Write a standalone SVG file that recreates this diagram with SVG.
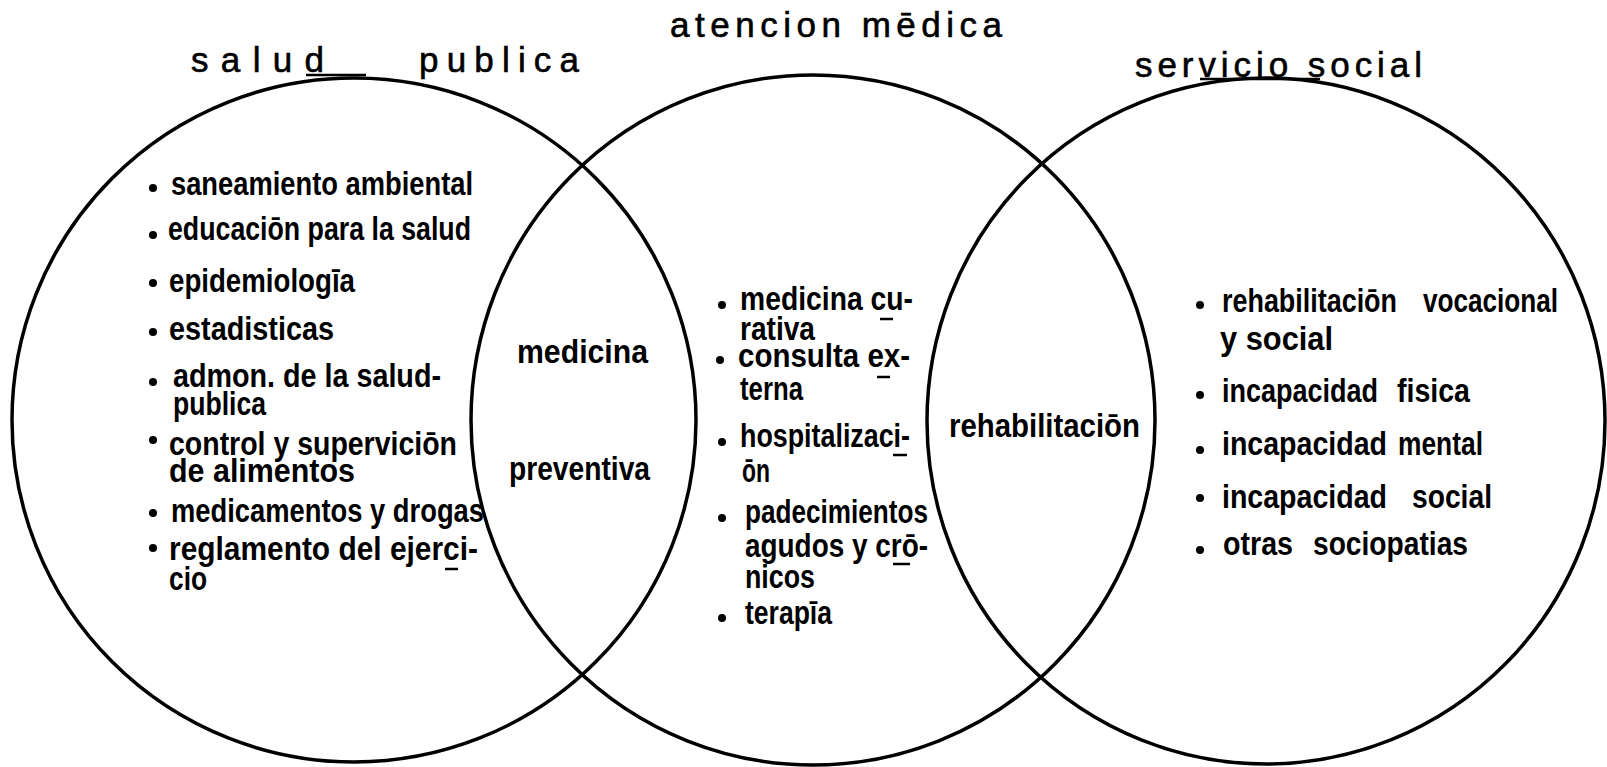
<svg xmlns="http://www.w3.org/2000/svg" width="1607" height="767" viewBox="0 0 1607 767">
<style>
.ring{fill:none;stroke:#000;stroke-width:3.5}
.ul{stroke:#000;stroke-width:2.5}
.title{font-family:"Liberation Sans","DejaVu Sans",sans-serif;font-size:35px;fill:#000;stroke:#000;stroke-width:0.6}
.t{font-family:"Liberation Sans","DejaVu Sans",sans-serif;font-size:34px;font-weight:bold;fill:#000}
.dot{fill:#000}
</style>
<rect width="1607" height="767" fill="#fff"/>
<g id="connectors"></g>

<g id="salud-publica">
<ellipse class="ring" cx="354" cy="420" rx="342" ry="342"/>
<text class="title" x="191" y="72" textLength="133" lengthAdjust="spacing">salud</text>
<text class="title" x="419" y="72" textLength="160" lengthAdjust="spacing">publica</text>
<line class="ul" x1="306" y1="75" x2="366" y2="75"/>
<circle class="dot" cx="153" cy="188" r="4"/>
<text class="t" x="171" y="195" textLength="302" lengthAdjust="spacingAndGlyphs">saneamiento ambiental</text>
<circle class="dot" cx="153" cy="235" r="4"/>
<text class="t" x="168" y="240" textLength="303" lengthAdjust="spacingAndGlyphs">educaciōn para la salud</text>
<circle class="dot" cx="153" cy="283" r="4"/>
<text class="t" x="169" y="292" textLength="186" lengthAdjust="spacingAndGlyphs">epidemiologīa</text>
<circle class="dot" cx="153" cy="332" r="4"/>
<text class="t" x="169" y="340" textLength="165" lengthAdjust="spacingAndGlyphs">estadisticas</text>
<circle class="dot" cx="153" cy="382" r="4"/>
<text class="t" x="173" y="387" textLength="268" lengthAdjust="spacingAndGlyphs">admon. de la salud-</text>
<text class="t" x="173" y="415" textLength="93" lengthAdjust="spacingAndGlyphs">publica</text>
<circle class="dot" cx="153" cy="440" r="4"/>
<text class="t" x="169" y="455" textLength="288" lengthAdjust="spacingAndGlyphs">control y superviciōn</text>
<text class="t" x="169" y="482" textLength="186" lengthAdjust="spacingAndGlyphs">de alimentos</text>
<circle class="dot" cx="153" cy="513" r="4"/>
<text class="t" x="171" y="522" textLength="313" lengthAdjust="spacingAndGlyphs">medicamentos y drogas</text>
<circle class="dot" cx="153" cy="548" r="4"/>
<text class="t" x="169" y="560" textLength="309" lengthAdjust="spacingAndGlyphs">reglamento del ejerci-</text>
<line class="ul" x1="445" y1="569" x2="458" y2="569"/>
<text class="t" x="169" y="590" textLength="38" lengthAdjust="spacingAndGlyphs">cio</text>
</g>

<g id="atencion-medica">
<ellipse class="ring" cx="813" cy="420" rx="342" ry="345"/>
<text class="title" x="670" y="37" textLength="332" lengthAdjust="spacing">atencion mēdica</text>
<circle class="dot" cx="722" cy="305" r="4"/>
<text class="t" x="740" y="310" textLength="173" lengthAdjust="spacingAndGlyphs">medicina cu-</text>
<line class="ul" x1="880" y1="319" x2="893" y2="319"/>
<text class="t" x="740" y="340" textLength="75" lengthAdjust="spacingAndGlyphs">rativa</text>
<circle class="dot" cx="720" cy="360" r="4"/>
<text class="t" x="738" y="367" textLength="172" lengthAdjust="spacingAndGlyphs">consulta ex-</text>
<line class="ul" x1="877" y1="377" x2="890" y2="377"/>
<text class="t" x="740" y="400" textLength="63" lengthAdjust="spacingAndGlyphs">terna</text>
<circle class="dot" cx="722" cy="442" r="4"/>
<text class="t" x="740" y="447" textLength="170" lengthAdjust="spacingAndGlyphs">hospitalizaci-</text>
<line class="ul" x1="893" y1="455" x2="907" y2="455"/>
<text class="t" x="742" y="482" textLength="28" lengthAdjust="spacingAndGlyphs">ōn</text>
<circle class="dot" cx="722" cy="518" r="4"/>
<text class="t" x="745" y="523" textLength="183" lengthAdjust="spacingAndGlyphs">padecimientos</text>
<text class="t" x="745" y="557" textLength="183" lengthAdjust="spacingAndGlyphs">agudos y crō-</text>
<line class="ul" x1="893" y1="564" x2="910" y2="564"/>
<text class="t" x="745" y="588" textLength="70" lengthAdjust="spacingAndGlyphs">nicos</text>
<circle class="dot" cx="722" cy="618" r="4"/>
<text class="t" x="745" y="624" textLength="87" lengthAdjust="spacingAndGlyphs">terapīa</text>
</g>

<g id="servicio-social">
<ellipse class="ring" cx="1266" cy="421" rx="339" ry="343"/>
<text class="title" x="1135" y="77" textLength="287" lengthAdjust="spacing">servicio social</text>
<line class="ul" x1="1200" y1="79" x2="1320" y2="79"/>
<circle class="dot" cx="1200" cy="305" r="4"/>
<text class="t" x="1222" y="312" textLength="175" lengthAdjust="spacingAndGlyphs">rehabilitaciōn</text>
<text class="t" x="1423" y="312" textLength="135" lengthAdjust="spacingAndGlyphs">vocacional</text>
<text class="t" x="1220" y="350" textLength="113" lengthAdjust="spacingAndGlyphs">y social</text>
<circle class="dot" cx="1200" cy="395" r="4"/>
<text class="t" x="1222" y="402" textLength="156" lengthAdjust="spacingAndGlyphs">incapacidad</text>
<text class="t" x="1397" y="402" textLength="73" lengthAdjust="spacingAndGlyphs">fisica</text>
<circle class="dot" cx="1200" cy="450" r="4"/>
<text class="t" x="1222" y="455" textLength="165" lengthAdjust="spacingAndGlyphs">incapacidad</text>
<text class="t" x="1398" y="455" textLength="85" lengthAdjust="spacingAndGlyphs">mental</text>
<circle class="dot" cx="1200" cy="498" r="4"/>
<text class="t" x="1222" y="508" textLength="165" lengthAdjust="spacingAndGlyphs">incapacidad</text>
<text class="t" x="1412" y="508" textLength="80" lengthAdjust="spacingAndGlyphs">social</text>
<circle class="dot" cx="1200" cy="550" r="4"/>
<text class="t" x="1223" y="555" textLength="70" lengthAdjust="spacingAndGlyphs">otras</text>
<text class="t" x="1313" y="555" textLength="155" lengthAdjust="spacingAndGlyphs">sociopatias</text>
</g>

<g id="medicina-preventiva">
<text class="t" x="517" y="363" textLength="131" lengthAdjust="spacingAndGlyphs">medicina</text>
<text class="t" x="509" y="480" textLength="141" lengthAdjust="spacingAndGlyphs">preventiva</text>
</g>

<g id="rehabilitacion">
<text class="t" x="949" y="437" textLength="191" lengthAdjust="spacingAndGlyphs">rehabilitaciōn</text>
</g>
</svg>
